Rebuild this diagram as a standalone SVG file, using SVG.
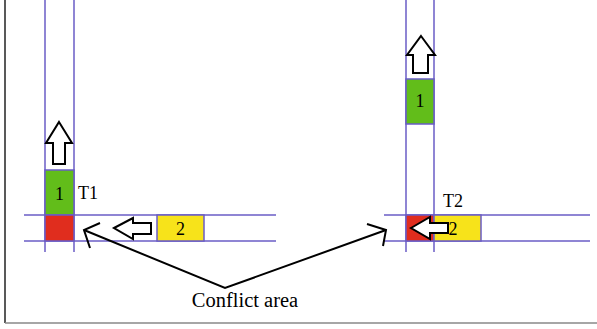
<svg xmlns="http://www.w3.org/2000/svg" width="597" height="329" viewBox="0 0 597 329">
<style>
.road{stroke:#6a5cc6;stroke-width:1.5;fill:none}
.box{stroke:#6a5cc6;stroke-width:1.5}
.g{fill:#62bd1a}.r{fill:#e02d1e}.y{fill:#f7e31a}
.arr{fill:#fff;stroke:#000;stroke-width:2;stroke-linejoin:miter}
.t{font-family:'Liberation Serif','Times New Roman',Times,serif;fill:#000}
.c{stroke:#000;stroke-width:2;fill:none}
</style>
<rect width="597" height="329" fill="#fff"/>
<g id="frame">
<line x1="5" y1="0" x2="5" y2="323" stroke="#222" stroke-width="1.5"/>
<line x1="5" y1="323" x2="597" y2="323" stroke="#888" stroke-width="1.5"/>
</g>
<g id="T1">
<line class="road" x1="45" y1="0" x2="45" y2="252"/>
<line class="road" x1="74" y1="0" x2="74" y2="252"/>
<line class="road" x1="24" y1="215" x2="276" y2="215"/>
<line class="road" x1="24" y1="241" x2="276" y2="241"/>
<rect class="box g" x="45" y="170" width="29" height="45"/>
<rect class="box r" x="45" y="215" width="29" height="26"/>
<rect class="box y" x="157" y="215" width="47" height="26"/>
<text class="t" x="59.5" y="200" font-size="18" text-anchor="middle">1</text>
<text class="t" x="180.5" y="235" font-size="18" text-anchor="middle">2</text>
<text class="t" x="78" y="199" font-size="18">T1</text>
<polygon class="arr" points="59,122 72,143 65,143 65,164 53,164 53,143 46,143"/>
<polygon class="arr" points="114,228 133,218 133,223 151,223 151,234 133,234 133,239"/>
</g>
<g id="T2">
<line class="road" x1="406" y1="0" x2="406" y2="252"/>
<line class="road" x1="434" y1="0" x2="434" y2="252"/>
<line class="road" x1="384" y1="215" x2="590" y2="215"/>
<line class="road" x1="384" y1="241" x2="590" y2="241"/>
<rect class="box g" x="406" y="79" width="28" height="45"/>
<rect class="box r" x="406" y="215" width="28" height="26"/>
<rect class="box y" x="434" y="215" width="47" height="26"/>
<text class="t" x="420" y="107" font-size="18" text-anchor="middle">1</text>
<text class="t" x="453" y="235" font-size="18" text-anchor="middle">2</text>
<text class="t" x="443" y="207" font-size="18">T2</text>
<polygon class="arr" points="421,36 435,55 428,55 428,73 413,73 413,55 407,55"/>
<polygon class="arr" points="411,228 430,217 430,223 448,223 448,233 430,233 430,239"/>
</g>
<g id="connectors">
<polyline class="c" points="84,230 225,288 386,230"/>
<polyline class="c" points="100,223 84,230 90,248"/>
<polyline class="c" points="367,224 386,230 383,246"/>
</g>
<g id="label">
<text class="t" x="245" y="307" font-size="20.5" text-anchor="middle">Conflict area</text>
</g>
</svg>
